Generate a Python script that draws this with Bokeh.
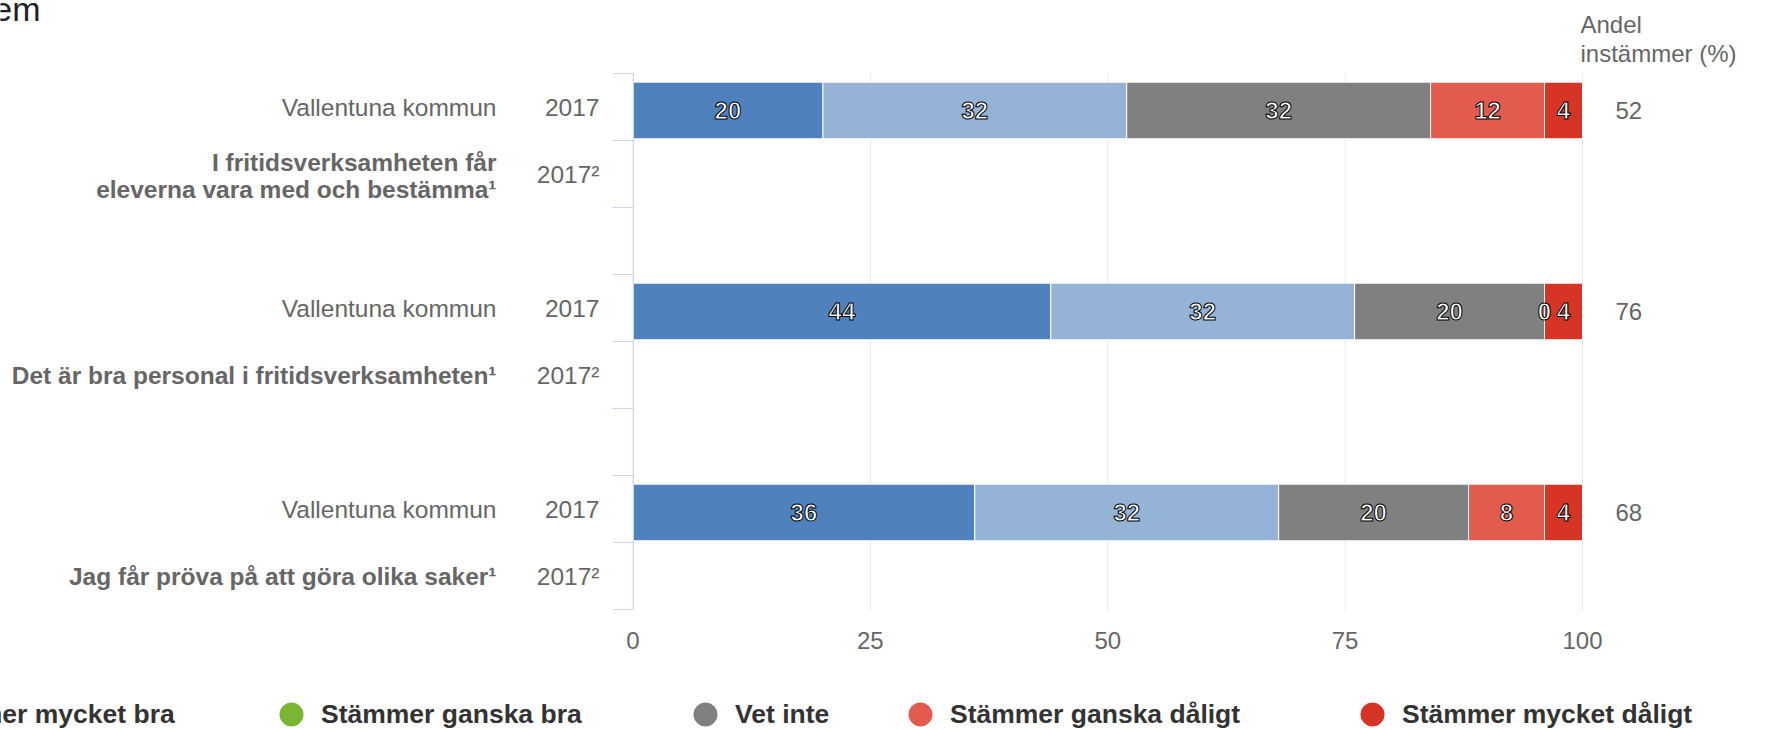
import numpy as np
from bokeh.plotting import figure
from bokeh.models import (ColumnDataSource, Range1d, FixedTicker, Legend, LegendItem,
                          LinearAxis)
from bokeh.core.properties import value
from bokeh.embed import file_html
from bokeh.resources import INLINE

# ---------------- data ----------------
title_text = "em"
questions = [
    ["I fritidsverksamheten får", "eleverna vara med och bestämma¹"],
    ["Det är bra personal i fritidsverksamheten¹"],
    ["Jag får pröva på att göra olika saker¹"],
]
unit_label = "Vallentuna kommun"
year_label = "2017"
year_q_label = "2017²"
series = ["Stämmer mycket bra", "Stämmer ganska bra", "Vet inte",
          "Stämmer ganska dåligt", "Stämmer mycket dåligt"]
mycket_bra = [20, 44, 36]
ganska_bra = [32, 32, 32]
vet_inte = [32, 20, 20]
ganska_daligt = [12, 0, 8]
mycket_daligt = [4, 4, 4]
andel_instammer = [52, 76, 68]
x_ticks = [0, 25, 50, 75, 100]
right_header = ["Andel", "instämmer (%)"]

bar_colors = ["#4f81bd", "#95b3d7", "#808080", "#e35b4f", "#d63526"]
legend_colors = ["#4f81bd", "#7ab632", "#808080", "#e35b4f", "#d63526"]

# rows: each question uses two bands, separated by an empty band
bar_band = [0, 3, 6]
question_band = [1, 4, 7]
n_bands = 8

# ---------------- layout (pixels) ----------------
W, H = 1768, 730
PLOT_L, PLOT_W = 632.5, 949.5      # where 0 and the 0..100 span sit
BAND_T, BAND_H = 73.3, 67.0        # top of first band, band height
FONT = "Liberation Sans"
GRAY = "#666666"
LABEL_SIZE = "24.5px"


def xd(px):
    return (px - PLOT_L) / PLOT_W * 100.0


def yd(py):
    return (py - BAND_T) / BAND_H


p = figure(width=W, height=H, x_range=Range1d(xd(0), xd(W)), y_range=Range1d(yd(H), yd(0)),
           output_backend="svg", toolbar_location=None,
           x_axis_location=None, y_axis_location=None,
           min_border_left=0, min_border_right=0, min_border_top=0, min_border_bottom=0)
p.outline_line_color = None
p.grid.visible = False

# vertical grid lines over the band area
p.segment(x0=x_ticks, x1=x_ticks, y0=[0] * len(x_ticks), y1=[n_bands] * len(x_ticks),
          line_color="#e6e6e6", line_width=1)

# y axis: ticks at band boundaries, no labels
yax = LinearAxis(fixed_location=0, bounds=(0, n_bands),
                 ticker=FixedTicker(ticks=list(range(n_bands + 1))),
                 major_label_overrides={i: "" for i in range(n_bands + 1)},
                 axis_line_color="#ccd6eb", major_tick_line_color="#ccd6eb",
                 major_tick_out=21, major_tick_in=0, minor_tick_line_color=None)
p.add_layout(yax, "left")

# x axis: labels only
xax = LinearAxis(fixed_location=n_bands, bounds=(0, 100), ticker=FixedTicker(ticks=x_ticks),
                 axis_line_color=None, major_tick_line_color=None, minor_tick_line_color=None,
                 major_label_text_font=FONT, major_label_text_font_size="24px",
                 major_label_text_color=GRAY, major_label_standoff=16)
p.add_layout(xax, "below")

# bars
stack_keys = ["mb", "gb", "vi", "gd", "md"]
vals = [mycket_bra, ganska_bra, vet_inte, ganska_daligt, mycket_daligt]
bar_y = [b + 0.5475 for b in bar_band]
src = ColumnDataSource(dict(y=bar_y, **{k: v for k, v in zip(stack_keys, vals)}))
p.hbar_stack(stackers=stack_keys, y="y", height=0.845,
             fill_color=bar_colors, line_color="white", line_width=1, source=src)

# data labels on the segments
arr = np.array(vals, dtype=float)  # series x rows
cum = np.cumsum(arr, axis=0)
centers = cum - arr / 2
lx, ly, lt = [], [], []
for r in range(arr.shape[1]):
    for s in range(arr.shape[0]):
        lx.append(centers[s, r])
        ly.append(bar_y[r])
        lt.append(str(int(arr[s, r])))
p.text(x=lx, y=ly, text=lt, text_align="center", text_baseline="middle",
       text_color="white", text_font=value(FONT), text_font_style="bold",
       text_font_size="24px", text_outline_color="black")

# left category labels
cx, cy, ct = [], [], []          # normal category labels (right-aligned)
for g in range(len(questions)):
    cx += [xd(496), xd(599), xd(599)]
    cy += [bar_band[g] + 0.5, bar_band[g] + 0.5, question_band[g] + 0.5]
    ct += [unit_label, year_label, year_q_label]
p.text(x=cx, y=cy, text=ct, text_align="right", text_baseline="middle",
       text_color=GRAY, text_font=value(FONT), text_font_size=LABEL_SIZE)

qx, qy, qt = [], [], []          # bold question labels
for g, lines in enumerate(questions):
    nl = len(lines)
    for i, line in enumerate(lines):
        off_px = (i - (nl - 1) / 2) * 27 + (1.2 if nl > 1 else 0)
        qx.append(xd(496))
        qy.append(question_band[g] + 0.5 + off_px / BAND_H)
        qt.append(line)
p.text(x=qx, y=qy, text=qt, text_align="right", text_baseline="middle",
       text_color=GRAY, text_font=value(FONT), text_font_size=LABEL_SIZE,
       text_font_style="bold")

# right values
p.text(x=[xd(1615)] * len(andel_instammer), y=bar_y, text=[str(v) for v in andel_instammer],
       text_align="left", text_baseline="middle", text_color=GRAY,
       text_font=value(FONT), text_font_size="24px")

# right header
p.text(x=[xd(1580), xd(1580)], y=[yd(23.5), yd(53)], text=right_header,
       text_align="left", text_baseline="middle", text_color=GRAY,
       text_font=value(FONT), text_font_size="24px")

# title fragment (cut off at the left edge, as in the reference)
p.text(x=[xd(40)], y=[yd(8)], text=[title_text], text_align="right",
       text_baseline="alphabetic", text_color="#222222",
       text_font=value(FONT), text_font_size="34px")

# legend: one legend per item, placed individually
marker_centers = [-116, 291, 705, 920, 1372]
GLYPH = 58
for name, col, mc in zip(series, legend_colors, marker_centers):
    r = p.scatter(x=[float("nan")], y=[float("nan")], marker="circle",
                  fill_color=col, line_color=col, size=10)
    leg = Legend(items=[LegendItem(label=name, renderers=[r])],
                 location=(mc - GLYPH // 2, (H - 714) - GLYPH // 2),
                 padding=0, spacing=0, margin=0, border_line_color=None,
                 background_fill_alpha=0, glyph_width=GLYPH, glyph_height=GLYPH,
                 label_standoff=1, label_text_font=FONT, label_text_font_style="bold",
                 label_text_font_size="26.5px", label_text_color="#333333")
    p.add_layout(leg)

open("out.html", "w").write(file_html(p, INLINE))
